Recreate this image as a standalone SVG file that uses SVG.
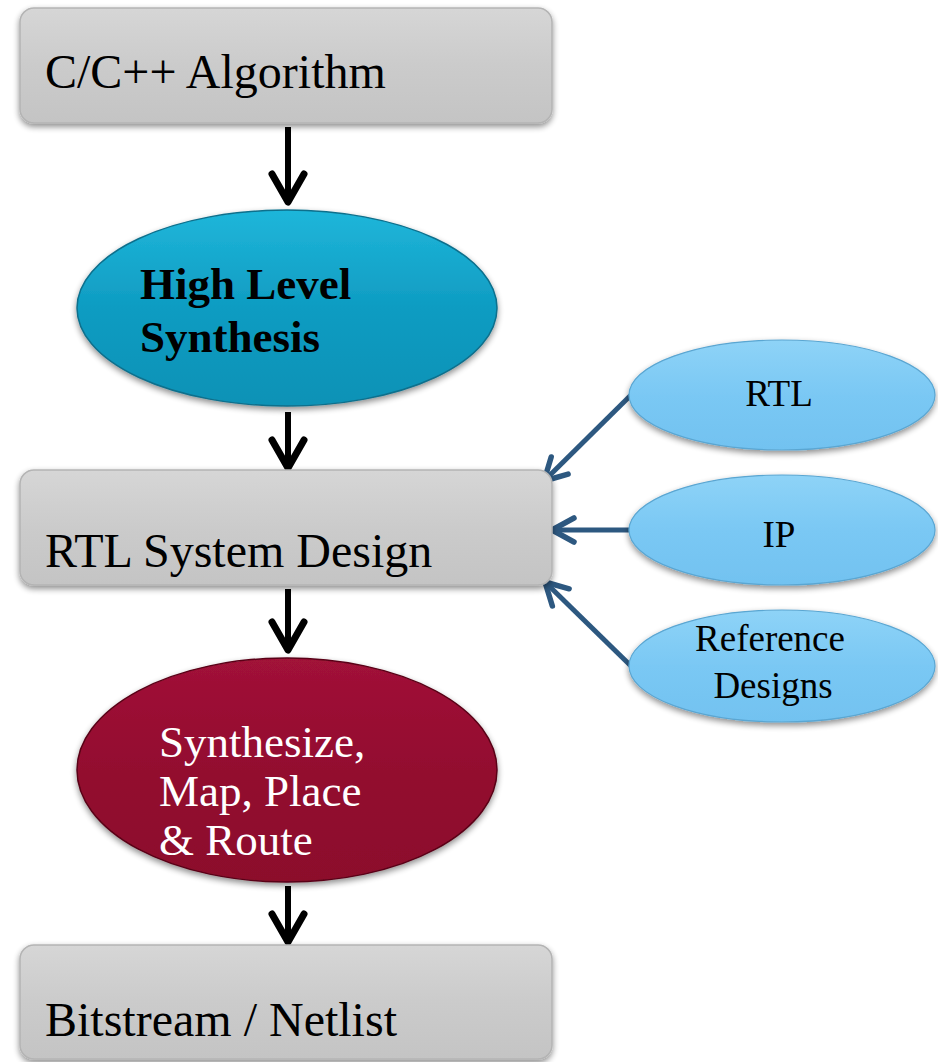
<svg xmlns="http://www.w3.org/2000/svg" width="938" height="1062" viewBox="0 0 938 1062">
  <defs>
    <linearGradient id="boxFill" x1="0" y1="0" x2="0" y2="1">
      <stop offset="0" stop-color="#d6d6d6"/>
      <stop offset="0.5" stop-color="#cbcbcb"/>
      <stop offset="1" stop-color="#c4c4c4"/>
    </linearGradient>
    <linearGradient id="tealFill" x1="0" y1="0" x2="0" y2="1">
      <stop offset="0" stop-color="#1fb6da"/>
      <stop offset="0.5" stop-color="#0f9cc2"/>
      <stop offset="1" stop-color="#0d92b6"/>
    </linearGradient>
    <linearGradient id="redFill" x1="0" y1="0" x2="0" y2="1">
      <stop offset="0" stop-color="#a11238"/>
      <stop offset="0.5" stop-color="#930c2f"/>
      <stop offset="1" stop-color="#8c0b2c"/>
    </linearGradient>
    <linearGradient id="skyFill" x1="0" y1="0" x2="0" y2="1">
      <stop offset="0" stop-color="#8ed3f7"/>
      <stop offset="0.5" stop-color="#7ac8f4"/>
      <stop offset="1" stop-color="#72c2f0"/>
    </linearGradient>
    <filter id="shadow" x="-10%" y="-10%" width="120%" height="130%">
      <feGaussianBlur in="SourceAlpha" stdDeviation="3"/>
      <feOffset dx="0" dy="3" result="b"/>
      <feComponentTransfer><feFuncA type="linear" slope="0.45"/></feComponentTransfer>
      <feMerge><feMergeNode/><feMergeNode in="SourceGraphic"/></feMerge>
    </filter>
    <marker id="headBlack" viewBox="0 0 36 40" refX="32" refY="20" markerWidth="36" markerHeight="40" orient="auto" markerUnits="userSpaceOnUse">
      <path d="M4,4 L32,20 L4,36" fill="none" stroke="#000" stroke-width="7" stroke-linecap="round" stroke-linejoin="round"/>
    </marker>
    <marker id="headBlue" viewBox="0 0 30 32" refX="26" refY="16" markerWidth="30" markerHeight="32" orient="auto" markerUnits="userSpaceOnUse">
      <path d="M4,4 L26,16 L4,28" fill="none" stroke="#2d5880" stroke-width="5.5" stroke-linecap="round" stroke-linejoin="round"/>
    </marker>
  </defs>
  <style>
    .box { fill: url(#boxFill); stroke: #b4b4b4; stroke-width: 1.5; filter: url(#shadow); }
    .lbl { font-family: "Liberation Serif", "Times New Roman", serif; font-size: 48px; fill: #000; }
    .mid { font-size: 45px; }
    .small { font-family: "Liberation Serif", "Times New Roman", serif; font-size: 37px; fill: #000; text-anchor: middle; }
    .flow { stroke: #000; stroke-width: 6; fill: none; marker-end: url(#headBlack); }
    .feed { stroke: #2d5880; stroke-width: 5; fill: none; marker-end: url(#headBlue); }
  </style>
  <rect width="938" height="1062" fill="#ffffff"/>

  <g id="connectors">
    <line class="flow" x1="288" y1="127" x2="288" y2="202"/>
    <line class="flow" x1="288" y1="412" x2="288" y2="468"/>
    <line class="flow" x1="288" y1="589" x2="288" y2="650"/>
    <line class="flow" x1="288" y1="886" x2="288" y2="942"/>
    <line class="feed" x1="631" y1="395" x2="544" y2="481"/>
    <line class="feed" x1="630" y1="530" x2="552" y2="530"/>
    <line class="feed" x1="631" y1="666" x2="545" y2="582"/>
  </g>

  <g id="node-algorithm">
    <rect class="box" x="20" y="8" width="532" height="115" rx="14"/>
    <text class="lbl" x="45" y="88">C/C++ Algorithm</text>
  </g>

  <g id="node-hls">
    <ellipse cx="287" cy="308" rx="210" ry="98" fill="url(#tealFill)" stroke="#0b6f8c" stroke-width="1.5" filter="url(#shadow)"/>
    <text class="lbl mid" x="140" y="299" font-weight="bold">High Level</text>
    <text class="lbl mid" x="140" y="352" font-weight="bold">Synthesis</text>
  </g>

  <g id="node-rtl-system">
    <rect class="box" x="20" y="470" width="532" height="115" rx="14"/>
    <text class="lbl" x="45" y="567">RTL System Design</text>
  </g>

  <g id="node-implement">
    <ellipse cx="287" cy="770" rx="210" ry="112" fill="url(#redFill)" stroke="#5a0519" stroke-width="1.5" filter="url(#shadow)"/>
    <text class="lbl mid" x="159" y="757" style="fill:#ffffff">Synthesize,</text>
    <text class="lbl mid" x="159" y="806" style="fill:#ffffff">Map, Place</text>
    <text class="lbl mid" x="159" y="855" style="fill:#ffffff">&amp; Route</text>
  </g>

  <g id="node-bitstream">
    <rect class="box" x="20" y="945" width="532" height="114" rx="14"/>
    <text class="lbl" x="45" y="1036">Bitstream / Netlist</text>
  </g>

  <g id="node-rtl">
    <ellipse cx="782" cy="395" rx="153" ry="55" fill="url(#skyFill)" stroke="#5aa6d2" stroke-width="1.2" filter="url(#shadow)"/>
    <text class="small" x="779" y="406">RTL</text>
  </g>

  <g id="node-ip">
    <ellipse cx="782" cy="530" rx="153" ry="55" fill="url(#skyFill)" stroke="#5aa6d2" stroke-width="1.2" filter="url(#shadow)"/>
    <text class="small" x="779" y="547">IP</text>
  </g>

  <g id="node-reference">
    <ellipse cx="782" cy="666" rx="153" ry="56" fill="url(#skyFill)" stroke="#5aa6d2" stroke-width="1.2" filter="url(#shadow)"/>
    <text class="small" x="770" y="651">Reference</text>
    <text class="small" x="773" y="698">Designs</text>
  </g>
</svg>
